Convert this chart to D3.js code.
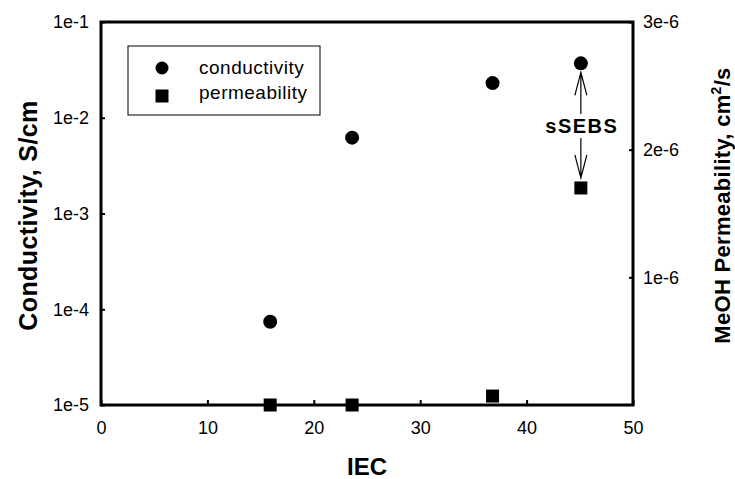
<!DOCTYPE html>
<html><head><meta charset="utf-8">
<script src="https://cdn.jsdelivr.net/npm/d3@7"></script>
<style>body{margin:0;background:#fff}svg{display:block;font-family:"Liberation Sans",Arial,sans-serif}</style>
</head><body>
<script>
const iec = [15.9, 23.6, 36.8, 45.1];
const conductivity = [7.4e-5, 6.2e-3, 2.3e-2, 3.7e-2];
const permIec = [15.9, 23.6, 36.8, 45.1];
const permeability = [0, 0, 0.07e-6, 1.7e-6];
const leftTicks = [1e-5, 1e-4, 1e-3, 1e-2, 1e-1];
const leftTickLabels = ["1e-5", "1e-4", "1e-3", "1e-2", "1e-1"];
const rightTicks = [1e-6, 2e-6, 3e-6];
const rightTickLabels = ["1e-6", "2e-6", "3e-6"];
const xTicks = [0, 10, 20, 30, 40, 50];
const legendLabels = ["conductivity", "permeability"];

const W = 735, H = 479;
const L = 101, R = 633, T = 22, B = 405;
const svg = d3.select("body").append("svg").attr("width", W).attr("height", H);

const x = d3.scaleLinear().domain([0, 50]).range([L, R]);
const yL = d3.scaleLog().domain([1e-5, 1e-1]).range([B, T]);
const yR = d3.scaleLinear().domain([0, 3e-6]).range([B, T]);

const fmtL = d => leftTickLabels[leftTicks.indexOf(d)];
const fmtR = d => rightTickLabels[rightTicks.indexOf(d)];
const gx = svg.append("g").attr("transform", `translate(0,${B})`)
  .call(d3.axisBottom(x).tickValues(xTicks).tickSizeInner(-5).tickSizeOuter(0).tickPadding(16));
const gl = svg.append("g").attr("transform", `translate(${L},0)`)
  .call(d3.axisLeft(yL).tickValues(leftTicks).tickFormat(fmtL).tickSizeInner(-4).tickSizeOuter(0).tickPadding(12));
const gr = svg.append("g").attr("transform", `translate(${R},0)`)
  .call(d3.axisRight(yR).tickValues(rightTicks).tickFormat(fmtR).tickSizeInner(-4).tickSizeOuter(0).tickPadding(10));
[gx, gl, gr].forEach(g => {
  g.selectAll(".domain").remove();
  g.selectAll(".tick line").attr("stroke", "#000").attr("stroke-width", 2);
  g.selectAll(".tick text").attr("font-size", 18).attr("fill", "#000")
   .attr("font-family", "Liberation Sans, Arial, sans-serif");
});
svg.append("rect").attr("x", L).attr("y", T).attr("width", R - L).attr("height", B - T)
  .attr("fill", "none").attr("stroke", "#000").attr("stroke-width", 3);

// axis titles
svg.append("text").attr("transform", `translate(${x(25)},475)`).attr("text-anchor", "middle")
  .attr("font-size", 24).attr("font-weight", "bold").text("IEC");
svg.append("text").attr("transform", `translate(37,${(T + B) / 2 + 2}) rotate(-90)`).attr("text-anchor", "middle")
  .attr("font-size", 25).attr("font-weight", "bold").attr("letter-spacing", 0.4).text("Conductivity, S/cm");
const rt = svg.append("text").attr("transform", `translate(730,${(T + B) / 2 - 8}) rotate(-90)`).attr("text-anchor", "middle")
  .attr("font-size", 22).attr("font-weight", "bold").attr("letter-spacing", 0.3);
rt.append("tspan").text("MeOH Permeability, cm");
rt.append("tspan").attr("font-size", 14).attr("dy", -9).text("2");
rt.append("tspan").attr("dy", 9).text("/s");

// data points
svg.append("g").selectAll("circle").data(iec).join("circle")
  .attr("cx", d => x(d)).attr("cy", (d, i) => yL(conductivity[i])).attr("r", 7).attr("fill", "#000");
const sq = 13;
svg.append("g").selectAll("rect").data(permIec).join("rect")
  .attr("x", d => x(d) - sq / 2).attr("y", (d, i) => yR(permeability[i]) - sq / 2)
  .attr("width", sq).attr("height", sq).attr("fill", "#000");

// legend
const lg = svg.append("g");
lg.append("rect").attr("x", 128).attr("y", 46).attr("width", 192).attr("height", 69)
  .attr("fill", "#fff").attr("stroke", "#000").attr("stroke-width", 1);
lg.append("circle").attr("cx", 162).attr("cy", 68).attr("r", 6.5).attr("fill", "#000");
lg.append("rect").attr("x", 162 - 6.5).attr("y", 96 - 6.5).attr("width", 13).attr("height", 13).attr("fill", "#000");
legendLabels.forEach((t, i) => lg.append("text").attr("x", 199).attr("y", 74 + i * 25)
  .attr("font-size", 19).attr("letter-spacing", 0.5).text(t));

// annotation
const ax = x(permIec[3]);
svg.append("text").attr("x", ax + 1).attr("y", 133).attr("text-anchor", "middle")
  .attr("font-size", 20).attr("font-weight", "bold").attr("letter-spacing", 1.5).text("sSEBS");
const ann = svg.append("g").attr("stroke", "#000").attr("stroke-width", 1.2).attr("fill", "none");
const ctop = yL(conductivity[3]) + 9, sbot = yR(permeability[3]) - 10;
ann.append("path").attr("d", `M${ax},114 L${ax},${ctop} M${ax - 6},${ctop + 23} L${ax},${ctop} L${ax + 6},${ctop + 23}`);
ann.append("path").attr("d", `M${ax},138 L${ax},${sbot} M${ax - 6},${sbot - 23} L${ax},${sbot} L${ax + 6},${sbot - 23}`);
</script>
</body></html>
